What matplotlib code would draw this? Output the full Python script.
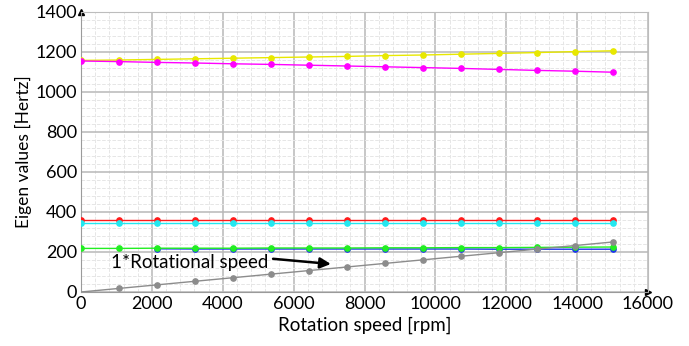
import matplotlib.pyplot as plt
from matplotlib.ticker import MultipleLocator

plt.rcParams['font.family'] = ['Lato', 'DejaVu Sans']

# rotation speeds (rpm) at which eigenvalues were computed
rpm = [0, 1071, 2143, 3214, 4286, 5357, 6429, 7500, 8571, 9643,
       10714, 11786, 12857, 13929, 15000]

yellow = [1158, 1160, 1163, 1166, 1169, 1172, 1175, 1178, 1182, 1185,
          1189, 1193, 1197, 1202, 1206]
magenta = [1155, 1152, 1148, 1145, 1141, 1138, 1134, 1130, 1126, 1122,
           1118, 1113, 1108, 1104, 1099]
red = [362] * 15
cyan = [343] * 15
green = [218, 218, 219, 219, 219, 220, 220, 220, 221, 221,
         222, 222, 223, 224, 225]
blue = [None, None, 216, 215, 215, 215, 215, 215, 215, 215,
        215, 214, 214, 214, 214]
gray = [0, 17.9, 35.7, 53.6, 71.4, 89.3, 107.1, 125.0, 142.9, 160.7,
        178.6, 196.4, 214.3, 232.1, 250.0]

series = [
    (yellow, '#e8e800'),
    (magenta, '#ff00ff'),
    (red, '#ff1a1a'),
    (cyan, '#22e8f0'),
]

fig = plt.figure(figsize=(6.89, 3.46), dpi=100)
ax = fig.add_axes([81 / 689, 1 - 292 / 346, 567 / 689, 280 / 346])

ms = 3.8
for vals, col in series:
    ax.plot(rpm, vals, color=col, lw=1, marker='o', ms=ms, zorder=3)

bx = [r for r, v in zip(rpm, blue) if v is not None]
by = [v for v in blue if v is not None]
ax.plot(bx, by, color='#1a33ee', lw=1, marker='o', ms=ms, zorder=2.9)
ax.plot(rpm, green, color='#22ee22', lw=1, marker='o', ms=ms, zorder=3)
ax.plot(rpm, gray, color='#8c8c8c', lw=1, marker='o', ms=ms,
        markevery=list(range(1, len(rpm))), zorder=3)

ax.set_xlim(0, 16000)
ax.set_ylim(0, 1400)
ax.xaxis.set_major_locator(MultipleLocator(2000))
ax.xaxis.set_minor_locator(MultipleLocator(400))
ax.yaxis.set_major_locator(MultipleLocator(200))
ax.yaxis.set_minor_locator(MultipleLocator(40))
ax.grid(which='major', color='#b8b8b8', lw=1.1)
ax.grid(which='minor', color='#e6e6e6', lw=0.7, ls='--')
ax.set_axisbelow(True)
ax.tick_params(which='both', length=0, labelsize=13, pad=3)
for s in ax.spines.values():
    s.set_color('#bdbdbd')
ax.spines['left'].set_color('#9a9a9a')
ax.spines['bottom'].set_color('#9a9a9a')

# small arrow heads at the axis ends
ax.plot(1, 0, '>', color='black', ms=4, transform=ax.transAxes, clip_on=False)
ax.plot(0, 1, '^', color='black', ms=4, transform=ax.transAxes, clip_on=False)

ax.set_xlabel('Rotation speed [rpm]', fontsize=13.5, labelpad=3)
ax.set_ylabel('Eigen values [Hertz]', fontsize=12.5, labelpad=2)

ax.text(3076, 148, '1*Rotational speed', fontsize=13.5,
        ha='center', va='center', zorder=5)
ax.annotate('', xy=(7050, 140), xytext=(5420, 166),
            arrowprops=dict(arrowstyle='-|>', color='black', lw=1.8,
                            mutation_scale=16, shrinkA=0, shrinkB=0),
            zorder=5)

fig.savefig('out.png', dpi=100)
